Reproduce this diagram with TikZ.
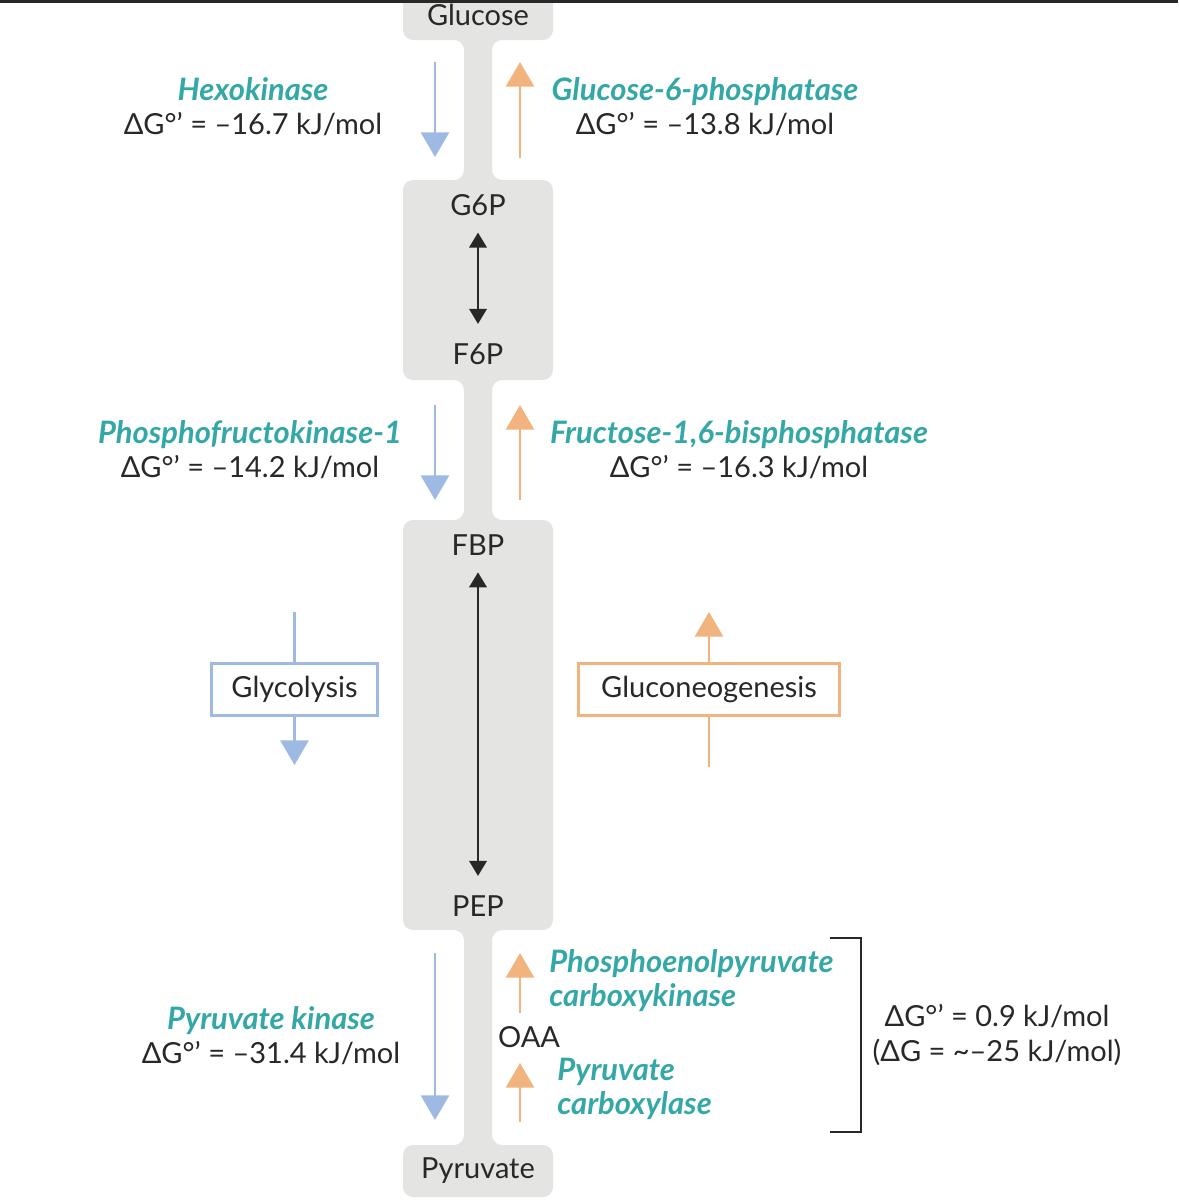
\documentclass[tikz,border=0pt]{standalone}
\usepackage{fontspec}
\setmainfont{Lato}
\usetikzlibrary{arrows.meta}
\definecolor{boxgray}{RGB}{228,229,226}
\definecolor{enzteal}{RGB}{52,168,166}
\definecolor{glyblue}{RGB}{158,186,226}
\definecolor{gngorange}{RGB}{242,180,126}
\definecolor{ink}{RGB}{40,40,40}
\newcommand{\enz}[1]{{\fontsize{17.6}{19.4}\selectfont\color{enzteal}\bfseries\itshape #1}}
\newcommand{\dg}{ΔG°’}

\begin{document}
\begin{tikzpicture}[
  x=0.02cm, y=-0.02cm,
  font=\fontsize{16.5}{19.4}\selectfont,
  text=ink,
  mol/.style={inner sep=0pt, anchor=base},
  enzlab/.style={align=center, inner sep=0pt},
  pathbox/.style={draw, line width=2pt, fill=white, text=ink, minimum height=1.04cm},
  glyarr/.style={glyblue, line width=1.4pt, -{Triangle[width=16pt,length=14pt]}},
  gngarr/.style={gngorange, line width=1.4pt, -{Triangle[width=16pt,length=14pt]}},
  revarr/.style={ink, line width=0.9pt, {Triangle[width=10pt,length=8.5pt]}-{Triangle[width=10pt,length=8.5pt]}, shorten <=0.34cm, shorten >=0.38cm}
]
\useasboundingbox (0,0) rectangle (1178,1204);
\clip (0,0) rectangle (1178,1204);

\fill[boxgray, rounded corners=0.2cm] (403,-20) -- (553,-20) -- (553,40) -- (492,40) -- (492,180)
  -- (553,180) -- (553,380) -- (492,380) -- (492,520) -- (553,520) -- (553,930) -- (492,930)
  -- (492,1145) -- (553,1145) -- (553,1197) -- (403,1197) -- (403,1145) -- (464,1145)
  -- (464,930) -- (403,930) -- (403,520) -- (464,520) -- (464,380) -- (403,380) -- (403,180)
  -- (464,180) -- (464,40) -- (403,40) -- cycle;
\fill[ink] (0,0) rectangle (1178,3);

\node[mol] (glc) at (478,25) {Glucose};
\node[mol] (g6p) at (478,215) {G6P};
\node[mol] (f6p) at (478,364) {F6P};
\node[mol] (fbp) at (478,555) {FBP};
\node[mol] (pep) at (478,916) {PEP};
\node[mol] (oaa) at (529,1047) {OAA};
\node[mol] (pyr) at (478,1178) {Pyruvate};

\node[enzlab] (hk) at (253,107) {\enz{Hexokinase}\\\dg{} = –16.7 kJ/mol};
\node[enzlab] (g6pase) at (705,107) {\enz{Glucose-6-phosphatase}\\\dg{} = –13.8 kJ/mol};
\node[enzlab] (pfk) at (250,450) {\enz{Phosphofructokinase-1}\\\dg{} = –14.2 kJ/mol};
\node[enzlab] (fbpase) at (739,450) {\enz{Fructose-1,6-bisphosphatase}\\\dg{} = –16.3 kJ/mol};
\node[enzlab] (pk) at (271,1036) {\enz{Pyruvate kinase}\\\dg{} = –31.4 kJ/mol};
\node[enzlab, align=left, anchor=west] (pepck) at (549,981) {\enz{Phosphoenolpyruvate}\\\enz{carboxykinase}};
\node[enzlab, align=left, anchor=west] (pc) at (557,1089) {\enz{Pyruvate}\\\enz{carboxylase}};
\node[enzlab] (bypass) at (997,1035) {\dg{} = 0.9 kJ/mol\\(ΔG = \textasciitilde–25 kJ/mol)};

\node[pathbox, draw=glyblue, minimum width=3.32cm] (gly) at (294.5,689.5) {Glycolysis};
\node[pathbox, draw=gngorange, minimum width=5.22cm] (gng) at (709,689.5) {Gluconeogenesis};

\coordinate (hkA) at (435,62);
\coordinate (hkB) at (435,157);
\coordinate (g6paseA) at (520,158);
\coordinate (g6paseB) at (520,62);
\coordinate (pfkA) at (435,405);
\coordinate (pfkB) at (435,500);
\coordinate (fbpaseA) at (520,500);
\coordinate (fbpaseB) at (520,405);
\coordinate (pkA) at (435,953);
\coordinate (pkB) at (435,1120);
\coordinate (pepckA) at (520,1013);
\coordinate (pepckB) at (520,953);
\coordinate (pcA) at (520,1122);
\coordinate (pcB) at (520,1063);
\coordinate (glyin) at (294.5,612);
\coordinate (glyout) at (294.5,765);
\coordinate (gngin) at (709,767);
\coordinate (gngout) at (709,612);

\draw[glyarr] (hkA) -- (hkB);
\draw[gngarr] (g6paseA) -- (g6paseB);
\draw[glyarr] (pfkA) -- (pfkB);
\draw[gngarr] (fbpaseA) -- (fbpaseB);
\draw[glyarr] (pkA) -- (pkB);
\draw[gngarr] (pepckA) -- (pepckB);
\draw[gngarr] (pcA) -- (pcB);
\draw[revarr] (g6p) -- (f6p);
\draw[revarr] (fbp) -- (pep);
\draw[glyblue, line width=1.4pt] (glyin) -- (gly);
\draw[glyarr] (gly) -- (glyout);
\draw[gngorange, line width=1.4pt] (gngin) -- (gng);
\draw[gngarr] (gng) -- (gngout);
\draw[ink, line width=1.2pt] (830,938) -- (861,938) -- (861,1132) -- (830,1132);
\end{tikzpicture}
\end{document}
